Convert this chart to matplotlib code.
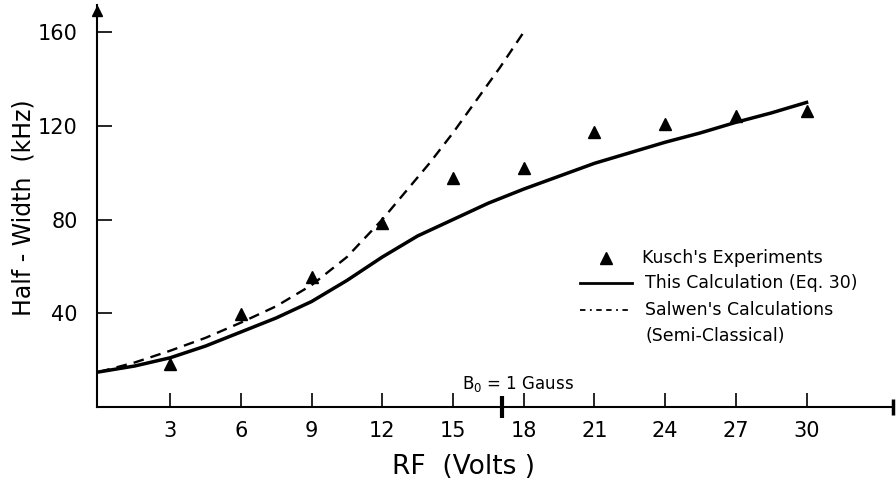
import matplotlib
matplotlib.use("Agg")
import matplotlib.pyplot as plt

# Kusch's experiments (triangles)
exp_rf = [3, 6, 9, 12, 15, 18, 21, 24, 27, 30]
exp_hw = [18.2, 39.5, 55.4, 78.4, 97.6, 102, 117.3, 120.7, 124, 126.3]

# This calculation (Eq. 30), solid curve
calc_rf = [0, 1.5, 3, 4.5, 6, 7.5, 9, 10.5, 12, 13.5, 15, 16.5, 18, 19.5,
           21, 22.5, 24, 25.5, 27, 28.5, 30]
calc_hw = [15, 17.5, 21, 26, 32, 38, 45, 54, 64, 73, 80, 87, 93, 98.5,
           104, 108.5, 113, 117, 121.5, 125.5, 130]

# Salwen's calculations (semi-classical), dashed curve
salw_rf = [0, 1.5, 3, 4.5, 6, 7.5, 9, 10.5, 12, 13, 14, 15, 16, 17, 18]
salw_hw = [15, 19, 24, 29.5, 36, 43, 52, 64, 80, 92, 104, 117, 131, 145, 160]

xticks = [3, 6, 9, 12, 15, 18, 21, 24, 27, 30]
yticks = [40, 80, 120, 160]
b0_rf = 17.1

plt.rcParams['font.family'] = 'DejaVu Sans'

fig = plt.figure(figsize=(8.96, 4.87), dpi=100)
ax = fig.add_axes([0.1083, 0.1643, 0.8884, 0.8255])

ax.plot(salw_rf, salw_hw, color='black', lw=1.7, dashes=(4.5, 3))
ax.plot(calc_rf, calc_hw, color='black', lw=2.5)
ax.plot(exp_rf, exp_hw, linestyle='none', marker='^', color='black', ms=9)

ax.set_xlim(-0.1, 33.67)
ax.set_ylim(0, 171.6)

for s in ['top', 'right']:
    ax.spines[s].set_visible(False)
for s in ['left', 'bottom']:
    ax.spines[s].set_linewidth(1.5)

ax.set_xticks(xticks)
ax.set_yticks(yticks)
ax.tick_params(axis='x', direction='in', length=10, width=1.2, pad=10, labelsize=15)
ax.tick_params(axis='y', direction='in', length=11, width=1.2, pad=14, labelsize=15)

# arrow at top of y axis, bar at end of x axis
ax.plot(0, 0.985, marker='^', color='black', ms=7, transform=ax.transAxes, clip_on=False)
ax.plot(1, 0, marker='|', color='black', ms=12, mew=2.5, transform=ax.transAxes, clip_on=False)

# B0 = 1 Gauss marker
ax.plot(b0_rf, 0, marker='|', color='black', ms=16, mew=3, clip_on=False)
ax.text(b0_rf - 1.7, 5.5, r'$\mathregular{B_0}$ = 1 Gauss', fontsize=12, ha='left', va='bottom')

ax.set_ylabel('Half - Width  (kHz)', fontsize=17, va='center')
ax.yaxis.set_label_coords(-0.092, 0.495)
ax.set_xlabel('RF  (Volts )', fontsize=19, va='center')
ax.xaxis.set_label_coords(0.46, -0.149)

# legend drawn by hand to keep the original layout
fs = 12.5
ax.plot(21.5, 63.5, marker='^', color='black', ms=8)
ax.text(23.0, 63.5, "Kusch's Experiments", fontsize=fs, va='center')
ax.plot([20.4, 22.6], [52.8, 52.8], color='black', lw=2)
ax.text(23.15, 52.8, "This Calculation (Eq. 30)", fontsize=fs, va='center')
ax.plot([20.4, 22.6], [41.2, 41.2], color='black', lw=1.3, dashes=(3, 2.5, 1, 2.5, 3, 2.5))
ax.text(23.15, 41.2, "Salwen's Calculations", fontsize=fs, va='center')
ax.text(23.15, 30.5, "(Semi-Classical)", fontsize=fs, va='center')

fig.savefig('out.png', dpi=100)
